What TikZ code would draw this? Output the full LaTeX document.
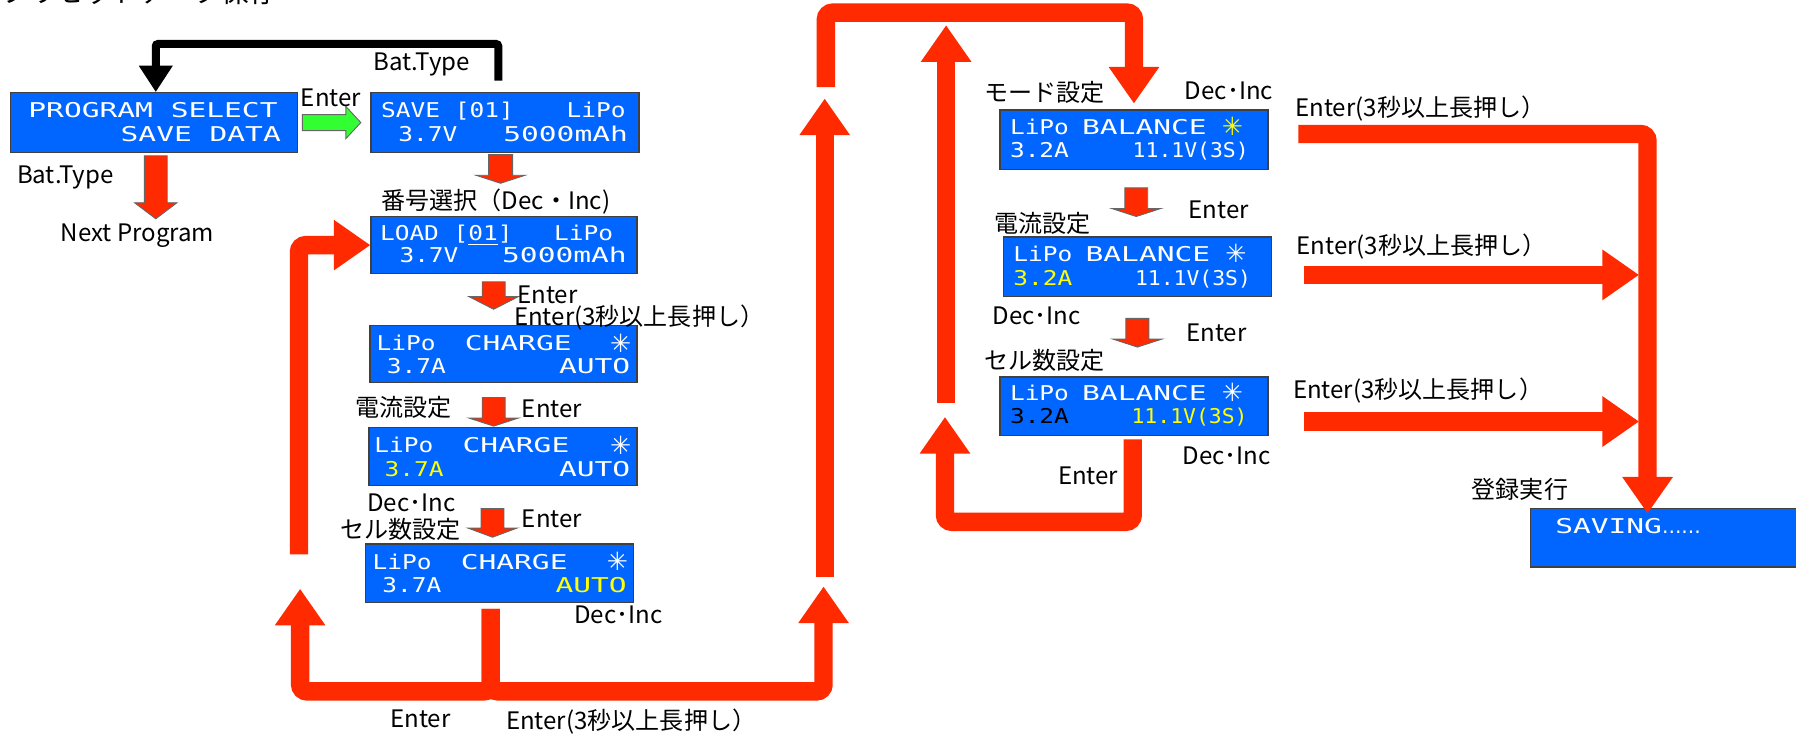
\documentclass[tikz,border=0pt]{standalone}
\usepackage{fontspec}
\setmainfont{Noto Sans CJK JP}
\newfontfamily\lcdfont[FakeStretch=1.45]{DejaVu Sans Mono}
\newfontfamily\lcdmid[FakeStretch=1.2]{DejaVu Sans Mono}
\newfontfamily\lcdnarrow[FakeStretch=1.05]{DejaVu Sans Mono}
\newfontfamily\djv{DejaVu Sans}
\usetikzlibrary{arrows.meta,calc}
\definecolor{lcdblue}{RGB}{0,102,255}
\definecolor{fred}{RGB}{255,42,0}
\definecolor{fgreen}{RGB}{50,255,50}
\definecolor{lcdyellow}{RGB}{255,255,0}
\newcommand\DnBlk[6]{\filldraw[blkarrow] (#1-#5,#2) -- (#1+#5,#2) -- (#1+#5,#3) -- (#1+#6,#3) -- (#1,#4) -- (#1-#6,#3) -- (#1-#5,#3) -- cycle;}
\begin{document}
\begin{tikzpicture}[x=0.5pt,y=-0.5pt,
  lcd/.style={rectangle,fill=lcdblue,draw=black!75,line width=0.6pt,inner sep=0pt},
  lt/.style={inner sep=0pt,text=white,font=\lcdfont\fontsize{8.9pt}{10pt}\selectfont},
  ltm/.style={inner sep=0pt,text=white,font=\lcdmid\fontsize{8.9pt}{10pt}\selectfont},
  ltn/.style={inner sep=0pt,text=white,font=\lcdnarrow\fontsize{8.9pt}{10pt}\selectfont},
  lsym/.style={inner sep=0pt,text=white,font=\djv\fontsize{11pt}{12pt}\selectfont},
  lbl/.style={inner sep=0pt,text=black,font=\fontsize{10.5pt}{12pt}\selectfont},
  bigred/.style={draw=fred,line width=8pt,rounded corners=3pt,-{Triangle[width=21pt,length=16pt]}},
  blkconn/.style={draw=black,line width=3.5pt,rounded corners=1pt,-{Triangle[width=14pt,length=11.5pt]}},
  blkarrow/.style={fill=fred,draw=black!60,line width=0.4pt},
  grnarrow/.style={fill=fgreen,draw=black!60,line width=0.4pt}
]
\useasboundingbox (0,0) rectangle (1568,643);
\clip (0,0) rectangle (1568,643);
\fill[white] (0,0) rectangle (1568,643);

% title (cut off at top)
\node[anchor=base west,inner sep=0pt,font=\fontsize{12pt}{14pt}\selectfont] (title) at (1,2.5) {プリセットデータ保存};

% LCD boxes
\node[lcd,minimum width=125.5pt,minimum height=26pt] (prog) at (134.5,107) {};
\node[lcd,minimum width=117pt,minimum height=26pt] (save) at (441,107) {};
\node[lcd,minimum width=116pt,minimum height=25pt] (load) at (440,214) {};
\node[lcd,minimum width=116.5pt,minimum height=25pt] (chg1) at (439.5,309) {};
\node[lcd,minimum width=117pt,minimum height=25.5pt] (chg2) at (439,398.5) {};
\node[lcd,minimum width=117pt,minimum height=25.5pt] (chg3) at (436,500.5) {};
\node[lcd,minimum width=117pt,minimum height=26pt] (mode) at (990,122) {};
\node[lcd,minimum width=117pt,minimum height=26pt] (bal2) at (993,233) {};
\node[lcd,minimum width=117pt,minimum height=25.5pt] (bal3) at (990,354.5) {};
\node[lcd,minimum width=122pt,minimum height=25.5pt] (saving) at (1458,469.5) {};

% LCD texts
\node[lt,anchor=base west] (p1) at ($(prog.north west)+(16,22)$) {PROGRAM SELECT};
\node[lt,anchor=base east] (p2) at ($(prog.north east)+(-15,43)$) {SAVE DATA};

\node[ltm,anchor=base west] (s1) at ($(save.north west)+(9,22)$) {SAVE [01]};
\node[ltm,anchor=base east] (s2) at ($(save.north east)+(-12,22)$) {LiPo};
\node[ltm,anchor=base west] (s3) at ($(save.north west)+(24,43)$) {3.7V};
\node[lt,anchor=base east] (s4) at ($(save.north east)+(-10,43)$) {5000mAh};

\node[ltm,anchor=base west] (l1) at ($(load.north west)+(8,22)$) {LOAD [\underline{01}]};
\node[ltm,anchor=base east] (l2) at ($(load.north east)+(-21,22)$) {LiPo};
\node[ltm,anchor=base west] (l3) at ($(load.north west)+(25,41)$) {3.7V};
\node[lt,anchor=base east] (l4) at ($(load.north east)+(-9,41)$) {5000mAh};

\node[ltm,anchor=base west] (c1a) at ($(chg1.north west)+(6,23)$) {LiPo};
\node[lt,anchor=base west] (c1b) at ($(chg1.north west)+(83,23)$) {CHARGE};
\node[lsym,anchor=base east] (c1c) at ($(chg1.north east)+(-5,24)$) {✳};
\node[ltm,anchor=base west] (c1d) at ($(chg1.north west)+(15,43)$) {3.7A};
\node[lt,anchor=base east] (c1e) at ($(chg1.north east)+(-6,43)$) {AUTO};

\node[ltm,anchor=base west] (c2a) at ($(chg2.north west)+(5,23)$) {LiPo};
\node[lt,anchor=base west] (c2b) at ($(chg2.north west)+(82,23)$) {CHARGE};
\node[lsym,anchor=base east] (c2c) at ($(chg2.north east)+(-5,24)$) {✳};
\node[ltm,anchor=base west,text=lcdyellow] (c2d) at ($(chg2.north west)+(14,44)$) {3.7A};
\node[lt,anchor=base east] (c2e) at ($(chg2.north east)+(-6,44)$) {AUTO};

\node[ltm,anchor=base west] (c3a) at ($(chg3.north west)+(6.5,22.6)$) {LiPo};
\node[lt,anchor=base west] (c3b) at ($(chg3.north west)+(83.5,22.6)$) {CHARGE};
\node[lsym,anchor=base east] (c3c) at ($(chg3.north east)+(-5,23.6)$) {✳};
\node[ltm,anchor=base west] (c3d) at ($(chg3.north west)+(15,42.7)$) {3.7A};
\node[lt,anchor=base east,text=lcdyellow] (c3e) at ($(chg3.north east)+(-6,42.7)$) {AUTO};

\node[ltm,anchor=base west] (m1) at ($(mode.north west)+(9,22)$) {LiPo};
\node[lt,anchor=base west] (m2) at ($(mode.north west)+(72,22)$) {BALANCE};
\node[lsym,anchor=base west,text=lcdyellow] (m3) at ($(mode.north west)+(194,23)$) {✳};
\node[ltm,anchor=base west] (m4) at ($(mode.north west)+(9,42)$) {3.2A};
\node[ltn,anchor=base east] (m5) at ($(mode.north east)+(-17,42)$) {11.1V(3S)};

\node[ltm,anchor=base west] (b2a) at ($(bal2.north west)+(9,22)$) {LiPo};
\node[lt,anchor=base west] (b2b) at ($(bal2.north west)+(72,22)$) {BALANCE};
\node[lsym,anchor=base west] (b2c) at ($(bal2.north west)+(194,23)$) {✳};
\node[ltm,anchor=base west,text=lcdyellow] (b2d) at ($(bal2.north west)+(9,43)$) {3.2A};
\node[ltn,anchor=base east] (b2e) at ($(bal2.north east)+(-18,43)$) {11.1V(3S)};

\node[ltm,anchor=base west] (b3a) at ($(bal3.north west)+(9,21)$) {LiPo};
\node[lt,anchor=base west] (b3b) at ($(bal3.north west)+(72,21)$) {BALANCE};
\node[lsym,anchor=base west] (b3c) at ($(bal3.north west)+(194,22)$) {✳};
\node[ltm,anchor=base west,text=black] (b3d) at ($(bal3.north west)+(9,41)$) {3.2A};
\node[ltn,anchor=base east,text=lcdyellow] (b3e) at ($(bal3.north east)+(-18,41)$) {11.1V(3S)};

\node[lt,anchor=base west] (sv1) at ($(saving.north west)+(22,22)$) {SAVING{\djv ......}};

% small block arrows
\DnBlk{136}{136}{177}{191}{10}{18.5}
\DnBlk{437}{135}{153}{160}{10.5}{21.5}
\DnBlk{431}{246}{259}{270}{10}{21.5}
\DnBlk{431}{347}{365}{372}{10}{21.5}
\DnBlk{430}{444}{461}{469}{10}{21.5}
\DnBlk{992}{164}{182}{189}{10}{21.5}
\DnBlk{993}{278}{296}{303}{10}{21.5}
\filldraw[grnarrow] (264,100) -- (302,100) -- (302,93) -- (315,107) -- (302,121) -- (302,114) -- (264,114) -- cycle;

% black connector
\draw[blkconn] ($(save.north)+(-6,-10)$) -- ++(0,-32) -| ($(prog.north)+(1.5,0)$);

% big red connectors
\coordinate (r1s) at (261,484);
\draw[bigred] (r1s) |- (load.west);
\coordinate (r2t) at (262,514);
\draw[bigred] ($(chg3.south)+(-7.5,5)$) -- ++(0,72) -| (r2t);
\coordinate (r3t) at (719,512);
\draw[bigred] ($(chg3.south)+(-7.5,5)$) -- ++(0,72) -| (r3t);
\coordinate (r4s) at (720,504);
\coordinate (r4t) at (720,86);
\draw[bigred] (r4s) -- (r4t);
\coordinate (r5s) at (721,76);
\draw[bigred] (r5s) -- ++(0,-65) -| ($(mode.north)+(0,-5)$);
\coordinate (r6t) at (825,364);
\draw[bigred] ($(bal3.south)+(-1,3)$) -- ++(0,72) -| (r6t);
\coordinate (r7s) at (826,352);
\coordinate (r7t) at (826,22);
\draw[bigred] (r7s) -- (r7t);
\draw[bigred] ($(mode.east)+(26,-5)$) -| ($(saving.north west)+(103,5)$);
\coordinate (j2) at (1431,240);
\draw[bigred] ($(bal2.east)+(28,7)$) -- (j2);
\coordinate (j3) at (1431,368);
\draw[bigred] ($(bal3.east)+(31,13.5)$) -- (j3);

% labels
\node[lbl] (t1) at (368,56) {Bat.Type};
\node[lbl] (t2) at (289,85) {Enter};
\node[lbl] (t3) at (57,155) {Bat.Type};
\node[lbl] (t4) at (120,206) {Next Program};
\node[lbl] (t5) at (433,176) {番号選択（Dec・Inc)};
\node[lbl] (t6) at (478,257) {Enter};
\node[lbl] (t7) at (558,277) {Enter(3秒以上長押し）};
\node[lbl] (t8) at (352,356) {電流設定};
\node[lbl] (t9) at (482,357) {Enter};
\node[lbl] (t10) at (359,439) {Dec･Inc};
\node[lbl] (t11) at (350,462) {セル数設定};
\node[lbl] (t12) at (482,453) {Enter};
\node[lbl] (t13) at (540,537) {Dec･Inc};
\node[lbl] (t14) at (367,628) {Enter};
\node[lbl] (t15) at (551,630) {Enter(3秒以上長押し）};
\node[lbl] (t16) at (912,81) {モード設定};
\node[lbl] (t17) at (1073,79) {Dec･Inc};
\node[lbl] (t18) at (1064,183) {Enter};
\node[lbl] (t19) at (910,195) {電流設定};
\node[lbl] (t20) at (905,276) {Dec･Inc};
\node[lbl] (t21) at (1062,291) {Enter};
\node[lbl] (t22) at (912,315) {セル数設定};
\node[lbl] (t23) at (1071,398) {Dec･Inc};
\node[lbl] (t24) at (950,415) {Enter};
\node[lbl] (t25) at (1240,95) {Enter(3秒以上長押し）};
\node[lbl] (t26) at (1241,215) {Enter(3秒以上長押し）};
\node[lbl] (t27) at (1238,341) {Enter(3秒以上長押し）};
\node[lbl] (t28) at (1327,427) {登録実行};
\end{tikzpicture}
\end{document}
